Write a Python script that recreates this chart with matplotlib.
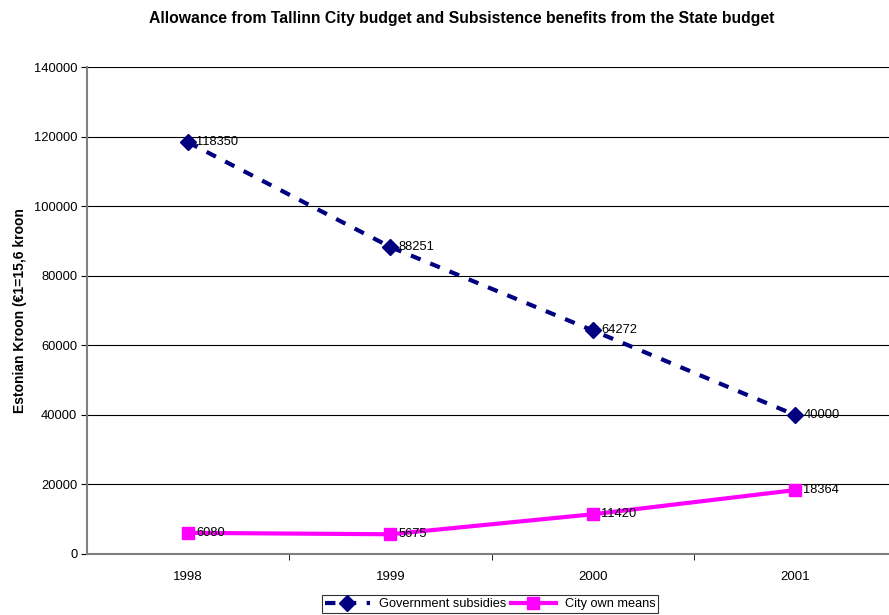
import matplotlib
matplotlib.use("Agg")
import matplotlib.pyplot as plt

years = ["1998", "1999", "2000", "2001"]
gov = [118350, 88251, 64272, 40000]
city = [6080, 5675, 11420, 18364]

plt.rcParams['font.family'] = ['Liberation Sans', 'DejaVu Sans']

fig = plt.figure(figsize=(8.89, 6.15), dpi=100)
ax = fig.add_axes([87/889, 61/615, (896-87)/889, 487/615])
x = list(range(len(years)))

ax.plot(x, gov, color='#000080', lw=3, ls=(0, (2.5, 2.5)), marker='D', ms=8.5,
        label='Government subsidies', zorder=3)
ax.plot(x, city, color='#FF00FF', lw=3, marker='s', ms=9,
        label='City own means', zorder=3)
for xi, v in zip(x, gov):
    ax.annotate(str(v), (xi, v), xytext=(6, 0), textcoords='offset points',
                va='center', ha='left', fontsize=9.3)
for xi, v in zip(x, city):
    ax.annotate(str(v), (xi, v), xytext=(6, 0), textcoords='offset points',
                va='center', ha='left', fontsize=9.3)

ax.set_xlim(-0.5, 3.5)
ax.set_ylim(0, 140000)
ax.set_yticks(range(0, 140001, 20000))
ax.set_xticks(x)
ax.set_xticklabels(years)
ax.set_xticks([0.5, 1.5, 2.5], minor=True)
ax.tick_params(axis='x', which='major', length=0, labelsize=9.5, pad=12)
ax.tick_params(axis='x', which='minor', length=4, color='black')
ax.tick_params(axis='y', length=4, labelsize=9.3, pad=3)
ax.yaxis.grid(True, color='black', lw=0.8)
ax.set_axisbelow(True)
for s in ['top', 'right']:
    ax.spines[s].set_visible(False)
ax.spines['left'].set_color('#808080')
ax.spines['left'].set_linewidth(1.5)
ax.spines['bottom'].set_color('#808080')
ax.spines['bottom'].set_linewidth(1.5)
ax.set_ylabel('Estonian Kroon (€1=15,6 kroon', fontsize=10, fontweight='bold', labelpad=5)

fig.text(462/889, 1 - 19/615, 'Allowance from Tallinn City budget and Subsistence benefits from the State budget',
         ha='center', va='center', fontsize=11.3, fontweight='bold')

leg = fig.legend(loc='center', bbox_to_anchor=(490/889, 1 - 604/615), ncol=2, fontsize=9.2,
                 frameon=True, fancybox=False, edgecolor='black', borderpad=0.2,
                 handlelength=3.5, columnspacing=0.4, handletextpad=0.7)
leg.get_frame().set_linewidth(0.8)

fig.savefig('out.png', dpi=100)
